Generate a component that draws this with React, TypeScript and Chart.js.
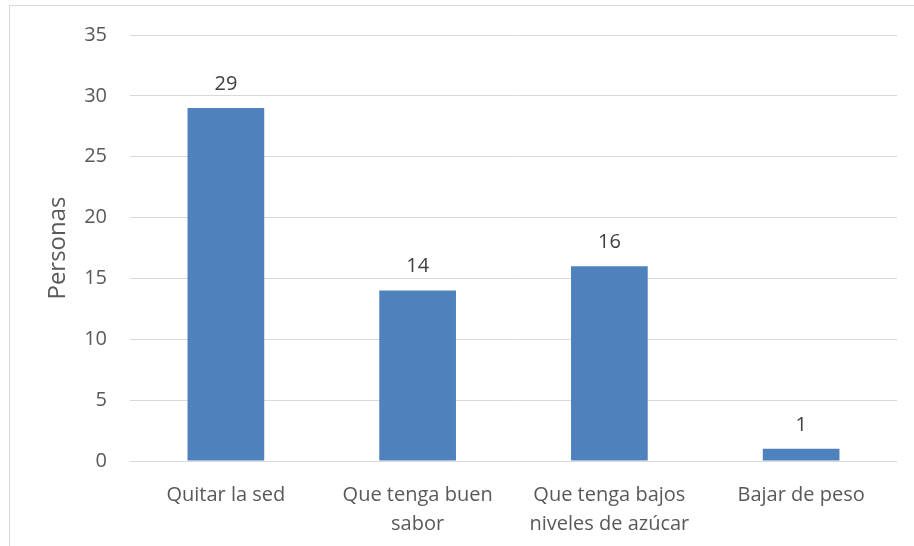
import React, { useEffect, useRef } from "react";
import { Chart, registerables } from "chart.js";

Chart.register(...registerables);

const categories: (string | string[])[] = [
  "Quitar la sed",
  ["Que tenga buen", "sabor"],
  ["Que tenga bajos", "niveles de azúcar"],
  "Bajar de peso",
];
const personas = [29, 14, 16, 1];
const yTicks = [0, 5, 10, 15, 20, 25, 30, 35];

const FONT = "'Open Sans', sans-serif";
const TEXT = "#595959";
const BAR = "#4f81bd";
const GRID = "#d9d9d9";

// Writes each bar's value just above its top.
const valueLabels = {
  id: "valueLabels",
  afterDatasetsDraw(chart: any) {
    const ctx = chart.ctx;
    const meta = chart.getDatasetMeta(0);
    const data = chart.data.datasets[0].data as number[];
    ctx.save();
    ctx.font = `20px ${FONT}`;
    ctx.fillStyle = "#404040";
    ctx.textAlign = "center";
    ctx.textBaseline = "middle";
    meta.data.forEach((bar: any, i: number) => {
      ctx.fillText(String(data[i]), bar.x, bar.y - 24);
    });
    ctx.restore();
  },
};

export default function App() {
  const canvasRef = useRef<HTMLCanvasElement>(null);

  useEffect(() => {
    const chart = new Chart(canvasRef.current!, {
      type: "bar",
      data: {
        labels: categories,
        datasets: [
          {
            data: personas,
            backgroundColor: BAR,
            categoryPercentage: 1,
            barPercentage: 0.4,
          },
        ],
      },
      options: {
        animation: false,
        responsive: false,
        maintainAspectRatio: false,
        layout: { padding: { left: 44, top: 34, right: 17, bottom: 0 } },
        plugins: { legend: { display: false }, tooltip: { enabled: false } },
        scales: {
          x: {
            grid: { display: false },
            border: { display: false },
            ticks: {
              color: TEXT,
              font: { family: FONT, size: 20, lineHeight: 1.45 },
              padding: 12,
              maxRotation: 0,
              autoSkip: false,
            },
            afterFit(scale: any) {
              scale.height = 85;
            },
          },
          y: {
            min: 0,
            max: 35,
            afterBuildTicks(scale: any) {
              scale.ticks = yTicks.map((v) => ({ value: v }));
            },
            grid: { color: GRID, lineWidth: 1, drawTicks: false },
            border: { display: false },
            ticks: {
              color: TEXT,
              font: { family: FONT, size: 20 },
              padding: 23,
            },
            title: {
              display: true,
              text: "Personas",
              color: TEXT,
              font: { family: FONT, size: 24, lineHeight: 1.2 },
              padding: { top: 0, bottom: 0 },
            },
            afterFit(scale: any) {
              scale.width = 86;
            },
          },
        },
      },
      plugins: [valueLabels],
    });
    return () => chart.destroy();
  }, []);

  return (
    <div style={{ position: "absolute", left: 0, top: 0, width: 914, height: 546, background: "#fff", overflow: "hidden" }}>
      <div
        style={{
          position: "absolute",
          left: 9,
          top: 5,
          width: 1000,
          height: 700,
          border: `1px solid ${GRID}`,
          boxSizing: "border-box",
        }}
      />
      <canvas ref={canvasRef} width={914} height={546} style={{ position: "absolute", left: 0, top: 0 }} />
    </div>
  );
}
